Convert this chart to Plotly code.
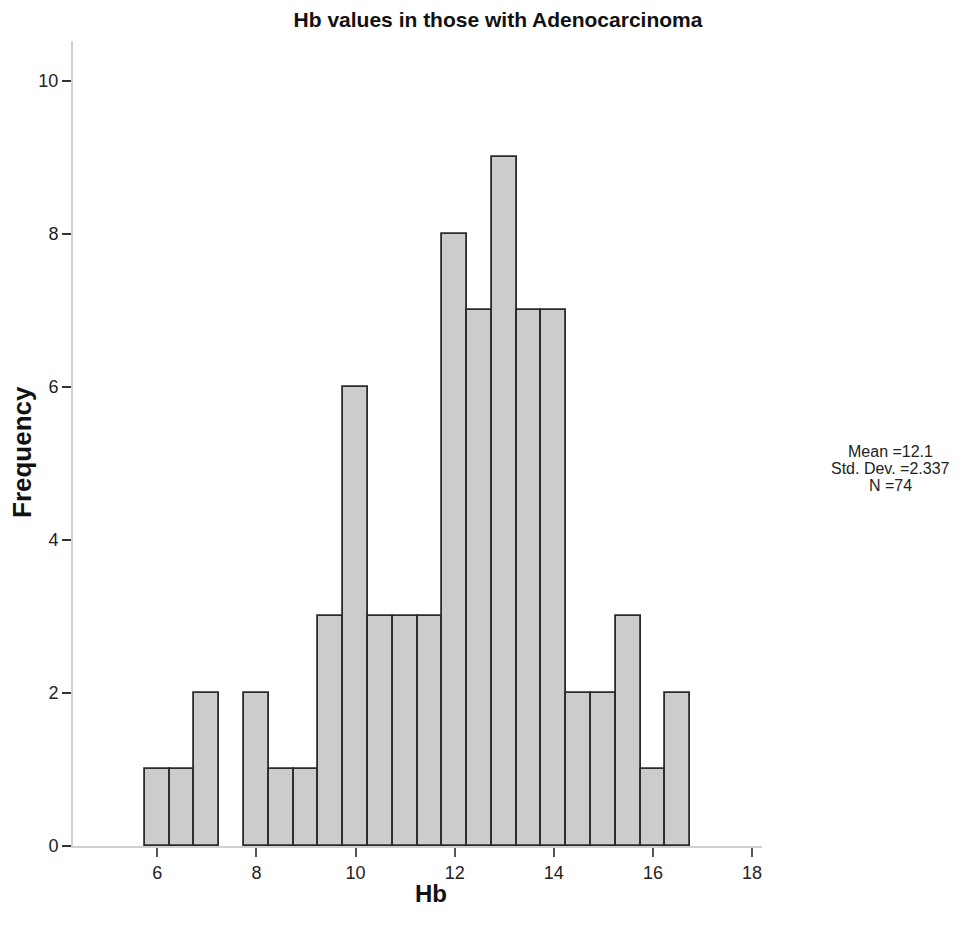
import plotly.graph_objects as go

bin_centers = [6.0, 6.5, 7.0, 7.5, 8.0, 8.5, 9.0, 9.5, 10.0, 10.5, 11.0,
               11.5, 12.0, 12.5, 13.0, 13.5, 14.0, 14.5, 15.0, 15.5, 16.0, 16.5]
counts = [1, 1, 2, 0, 2, 1, 1, 3, 6, 3, 3, 3, 8, 7, 9, 7, 7, 2, 2, 3, 1, 2]
bin_width = 0.5
x_ticks = [6, 8, 10, 12, 14, 16, 18]
y_ticks = [0, 2, 4, 6, 8, 10]
stats_lines = ["Mean =12.1", "Std. Dev. =2.337", "N =74"]

FONT = "Liberation Sans Narrow, Arial Narrow, Liberation Sans, Arial, sans-serif"

L, R, T, B = 73, 216, 41, 94
W, H = 978, 940
PW, PH = W - L - R, H - T - B


def px(xp):
    return (xp - L) / PW


def py(yp):
    return (H - B - yp) / PH


fig = go.Figure()
fig.add_trace(go.Bar(
    x=bin_centers, y=counts, width=[bin_width] * len(bin_centers),
    marker=dict(color="#cccccc",
                line=dict(color="#2b2b2b", width=[1.8 if c > 0 else 0 for c in counts])),
    showlegend=False, hoverinfo="x+y",
))

fig.update_layout(
    width=W, height=H,
    margin=dict(l=L, r=R, t=T, b=B, autoexpand=False),
    plot_bgcolor="white", paper_bgcolor="white",
    font=dict(family=FONT, size=16, color="#222"),
    title=dict(text="<b>Hb values in those with Adenocarcinoma</b>",
               x=498 / W, xanchor="center", y=1 - 20 / H, yanchor="middle",
               font=dict(family=FONT, size=21, color="#111")),
    bargap=0,
    xaxis=dict(range=[4.3, 18.2], tickvals=x_ticks, ticks="outside", ticklen=9,
               tickcolor="#555", tickwidth=2, showgrid=False, zeroline=False,
               showline=True, linecolor="#d0d0d0", linewidth=2, automargin=False,
               tickfont=dict(family=FONT, size=18, color="#222")),
    yaxis=dict(range=[0, 10.52], tickvals=y_ticks, ticks="outside", ticklen=9,
               tickcolor="#333", tickwidth=2, showgrid=False, zeroline=False,
               showline=True, linecolor="#d0d0d0", linewidth=2, automargin=False,
               tickfont=dict(family=FONT, size=18, color="#222")),
)

fig.add_annotation(text="<b>Hb</b>", xref="paper", yref="paper",
                   x=px(431), y=py(893), xanchor="center", yanchor="middle",
                   showarrow=False, font=dict(family=FONT, size=24, color="#111"))
fig.add_annotation(text="<b>Frequency</b>", xref="paper", yref="paper",
                   x=px(22), y=py(452), xanchor="center", yanchor="middle",
                   textangle=-90, showarrow=False,
                   font=dict(family=FONT, size=26, color="#111"))

line_y = [451, 468, 485]
for txt, yp in zip(stats_lines, line_y):
    fig.add_annotation(text=txt, xref="paper", yref="paper",
                       x=px(890), y=py(yp), xanchor="center", yanchor="middle",
                       showarrow=False,
                       font=dict(family=FONT, size=16, color="#222"))

fig.write_html("out.html")
